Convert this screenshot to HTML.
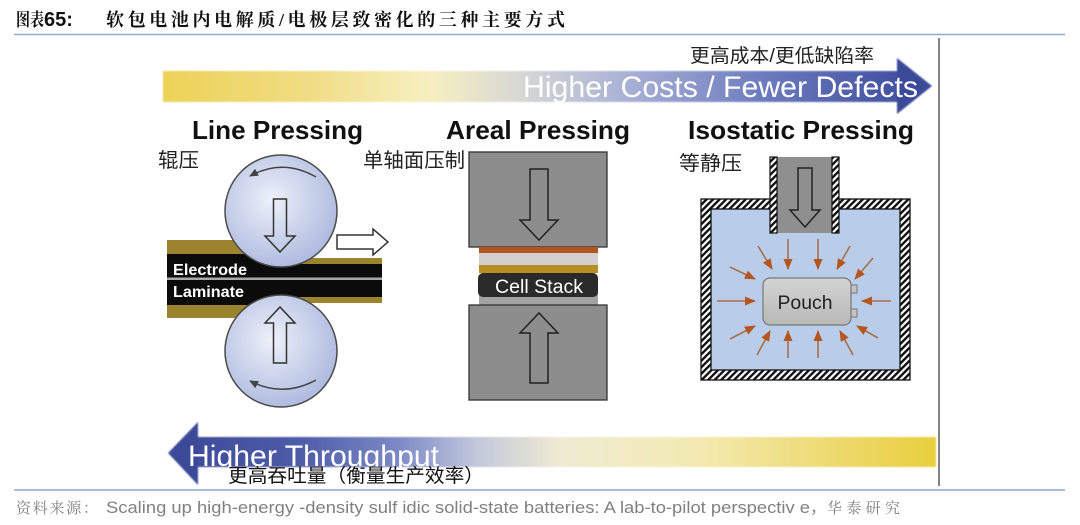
<!DOCTYPE html>
<html><head><meta charset="utf-8"><style>
html,body{margin:0;padding:0;background:#fff;}
svg{display:block;}
</style></head><body>
<svg width="1080" height="525" viewBox="0 0 1080 525" xmlns="http://www.w3.org/2000/svg">
<defs>
 <linearGradient id="gTop" x1="163" y1="0" x2="932" y2="0" gradientUnits="userSpaceOnUse">
  <stop offset="0" stop-color="#edd257"/>
  <stop offset="0.18" stop-color="#f0dc82"/>
  <stop offset="0.35" stop-color="#f6efc2"/>
  <stop offset="0.46" stop-color="#d8d8d4"/>
  <stop offset="0.6" stop-color="#aab2d6"/>
  <stop offset="0.78" stop-color="#6c7bbd"/>
  <stop offset="1" stop-color="#38479a"/>
 </linearGradient>
 <linearGradient id="gBot" x1="168" y1="0" x2="940" y2="0" gradientUnits="userSpaceOnUse">
  <stop offset="0" stop-color="#3a4898"/>
  <stop offset="0.17" stop-color="#4d5ca8"/>
  <stop offset="0.30" stop-color="#7d8ac6"/>
  <stop offset="0.40" stop-color="#c3c8dc"/>
  <stop offset="0.51" stop-color="#efebd2"/>
  <stop offset="0.69" stop-color="#f3e9b0"/>
  <stop offset="1" stop-color="#e8ce3c"/>
 </linearGradient>
 <radialGradient id="gRoll" cx="0.42" cy="0.4" r="0.62">
  <stop offset="0" stop-color="#eef1fa"/>
  <stop offset="1" stop-color="#aebadf"/>
 </radialGradient>
 <linearGradient id="gPouch" x1="0" y1="0" x2="0" y2="1">
  <stop offset="0" stop-color="#d4d4d4"/>
  <stop offset="1" stop-color="#b8b8b8"/>
 </linearGradient>
 <pattern id="hatch" patternUnits="userSpaceOnUse" width="4.6" height="4.6" patternTransform="rotate(45)">
  <rect width="4.6" height="4.6" fill="#fff"/>
  <rect width="2.4" height="4.6" fill="#111"/>
 </pattern>
 <filter id="soft" x="-5%" y="-20%" width="110%" height="140%">
  <feGaussianBlur stdDeviation="0.8"/>
 </filter>
 <marker id="oArr" markerUnits="userSpaceOnUse" markerWidth="11" markerHeight="10" refX="10" refY="4.5" orient="auto">
  <path d="M0,0 L11,4.5 L0,9 Z" fill="#b5561e"/>
 </marker>
 <marker id="dArr" markerUnits="userSpaceOnUse" markerWidth="9" markerHeight="8" refX="8" refY="4" orient="auto">
  <path d="M0,0 L9,4 L0,8 Z" fill="#444"/>
 </marker>
</defs>

<rect width="1080" height="525" fill="#fff"/>

<!-- Title -->
<text x="16" y="26" font-family="'Noto Serif CJK SC', serif" font-weight="bold" font-size="18" textLength="28" lengthAdjust="spacingAndGlyphs" fill="#111">图表</text>
<text x="44" y="26" font-family="'Liberation Sans', sans-serif" font-weight="bold" font-size="20" fill="#111">65:</text>
<text x="106" y="26" font-family="'Liberation Serif','Noto Serif CJK SC', serif" font-weight="bold" font-size="18" textLength="459" lengthAdjust="spacing" fill="#111">软包电池内电解质/电极层致密化的三种主要方式</text>
<line x1="14" y1="34.5" x2="1065" y2="34.5" stroke="#8faacb" stroke-width="1.6"/>

<!-- vertical line -->
<line x1="939" y1="38" x2="939" y2="486" stroke="#333" stroke-width="1.2"/>

<!-- top arrow -->
<g filter="url(#soft)">
 <rect x="163" y="71" width="737" height="31" fill="url(#gTop)"/>
 <polygon points="897,58 932,86 897,114" fill="#3a4899"/>
</g>
<text x="523" y="97" font-family="'Liberation Sans', sans-serif" font-size="30" fill="#fff" textLength="395" lengthAdjust="spacingAndGlyphs">Higher Costs / Fewer Defects</text>
<text x="690" y="62" font-family="'Liberation Sans','Noto Sans CJK SC', sans-serif" font-size="19" fill="#222" textLength="184" lengthAdjust="spacingAndGlyphs">更高成本/更低缺陷率</text>

<!-- section titles -->
<text x="192" y="139" font-family="'Liberation Sans', sans-serif" font-weight="bold" font-size="26" fill="#111" textLength="171" lengthAdjust="spacingAndGlyphs">Line Pressing</text>
<text x="446" y="139" font-family="'Liberation Sans', sans-serif" font-weight="bold" font-size="26" fill="#111" textLength="184" lengthAdjust="spacingAndGlyphs">Areal Pressing</text>
<text x="688" y="139" font-family="'Liberation Sans', sans-serif" font-weight="bold" font-size="26" fill="#111" textLength="226" lengthAdjust="spacingAndGlyphs">Isostatic Pressing</text>

<text x="158" y="167" font-family="'Liberation Sans','Noto Sans CJK SC', sans-serif" font-size="20" fill="#222" textLength="41" lengthAdjust="spacingAndGlyphs">辊压</text>
<text x="363" y="167" font-family="'Liberation Sans','Noto Sans CJK SC', sans-serif" font-size="20" fill="#222" textLength="102" lengthAdjust="spacingAndGlyphs">单轴面压制</text>
<text x="679" y="170" font-family="'Liberation Sans','Noto Sans CJK SC', sans-serif" font-size="20" fill="#222" textLength="63" lengthAdjust="spacingAndGlyphs">等静压</text>

<!-- ===== Line pressing ===== -->
<rect x="167" y="240" width="118" height="78" fill="#9c8330"/>
<rect x="167" y="254" width="118" height="51" fill="#0b0b0b"/>
<rect x="285" y="258" width="97" height="45" fill="#9c8330"/>
<rect x="285" y="264" width="97" height="33" fill="#0b0b0b"/>
<rect x="167" y="277.5" width="215" height="2.5" fill="#a8a8a8"/>
<text x="173" y="275" font-family="'Liberation Sans', sans-serif" font-weight="bold" font-size="16" fill="#fff" textLength="74" lengthAdjust="spacingAndGlyphs">Electrode</text>
<text x="173" y="297" font-family="'Liberation Sans', sans-serif" font-weight="bold" font-size="16" fill="#fff" textLength="71" lengthAdjust="spacingAndGlyphs">Laminate</text>

<circle cx="281" cy="211" r="56" fill="url(#gRoll)" stroke="#4a4a4a" stroke-width="1.5"/>
<circle cx="281" cy="351" r="56" fill="url(#gRoll)" stroke="#4a4a4a" stroke-width="1.5"/>
<path d="M316,177 Q283,158 250,176" fill="none" stroke="#444" stroke-width="1.5" marker-end="url(#dArr)"/>
<path d="M316,380 Q283,398 250,381" fill="none" stroke="#444" stroke-width="1.5" marker-end="url(#dArr)"/>
<path d="M273.5,199 L286.5,199 L286.5,236 L295,236 L280,252 L265,236 L273.5,236 Z" fill="none" stroke="#333" stroke-width="1.5"/>
<path d="M273.5,363 L286.5,363 L286.5,323 L295,323 L280,307 L265,323 L273.5,323 Z" fill="none" stroke="#333" stroke-width="1.5"/>
<path d="M337,235 L373,235 L373,229 L388,242 L373,255 L373,249 L337,249 Z" fill="#fff" stroke="#333" stroke-width="1.5"/>

<!-- ===== Areal pressing ===== -->
<rect x="469" y="152" width="138" height="95" fill="#8d8d8d" stroke="#333" stroke-width="1.3"/>
<path d="M530,169 L548,169 L548,220 L558,220 L539,240 L520,220 L530,220 Z" fill="none" stroke="#222" stroke-width="1.5"/>
<rect x="479" y="247" width="119" height="6" fill="#b5541f"/>
<rect x="479" y="253" width="119" height="12" fill="#d3cfcf"/>
<rect x="479" y="265" width="119" height="8" fill="#b58f22"/>
<rect x="479" y="290" width="119" height="15" fill="#a3a3a3"/>
<rect x="478" y="273" width="120" height="24" rx="5" fill="#2a2a2a"/>
<text x="539" y="293" text-anchor="middle" font-family="'Liberation Sans', sans-serif" font-size="19" fill="#fff" textLength="88" lengthAdjust="spacingAndGlyphs">Cell Stack</text>
<rect x="469" y="305" width="138" height="95" fill="#8d8d8d" stroke="#333" stroke-width="1.3"/>
<path d="M530,383 L548,383 L548,333 L558,333 L539,313 L520,333 L530,333 Z" fill="none" stroke="#222" stroke-width="1.5"/>

<!-- ===== Isostatic pressing ===== -->
<rect x="701" y="199" width="209" height="181" fill="url(#hatch)" stroke="#111" stroke-width="1.3"/>
<rect x="711" y="209" width="189" height="161" fill="#b9cdea" stroke="#111" stroke-width="1.3"/>
<rect x="777" y="157" width="55" height="76" fill="#8f8f8f"/>
<rect x="770" y="157" width="7" height="76" fill="url(#hatch)" stroke="#111" stroke-width="1.2"/>
<rect x="832" y="157" width="7" height="76" fill="url(#hatch)" stroke="#111" stroke-width="1.2"/>
<path d="M798,168 L812,168 L812,210 L820,210 L805,227 L790,210 L798,210 Z" fill="none" stroke="#222" stroke-width="1.5"/>

<rect x="850" y="285" width="7" height="8" fill="#c4c4c4" stroke="#777" stroke-width="1"/>
<rect x="850" y="309" width="7" height="8" fill="#c4c4c4" stroke="#777" stroke-width="1"/>
<rect x="763" y="278" width="88" height="47" rx="7" fill="url(#gPouch)" stroke="#777" stroke-width="1.2"/>
<text x="805" y="309" text-anchor="middle" font-family="'Liberation Sans', sans-serif" font-size="19" fill="#222" textLength="55" lengthAdjust="spacingAndGlyphs">Pouch</text>

<g stroke="#a8704c" stroke-width="1.6" marker-end="url(#oArr)">
 <line x1="758" y1="246" x2="772" y2="269"/>
 <line x1="788" y1="239" x2="788" y2="269"/>
 <line x1="818" y1="239" x2="818" y2="269"/>
 <line x1="850" y1="246" x2="837" y2="269"/>
 <line x1="730" y1="267" x2="755" y2="279"/>
 <line x1="873" y1="258" x2="855" y2="279"/>
 <line x1="717" y1="301" x2="755" y2="301"/>
 <line x1="891" y1="301" x2="862" y2="301"/>
 <line x1="730" y1="339" x2="755" y2="326"/>
 <line x1="878" y1="338" x2="857" y2="326"/>
 <line x1="757" y1="355" x2="770" y2="331"/>
 <line x1="788" y1="358" x2="788" y2="331"/>
 <line x1="818" y1="358" x2="818" y2="331"/>
 <line x1="853" y1="355" x2="840" y2="331"/>
</g>

<!-- bottom arrow -->
<g filter="url(#soft)">
 <rect x="196" y="437" width="740" height="30" fill="url(#gBot)"/>
 <polygon points="198,422 168,453 198,485" fill="#3a4898"/>
</g>
<text x="188" y="466" font-family="'Liberation Sans', sans-serif" font-size="30" fill="#fff" textLength="251" lengthAdjust="spacingAndGlyphs">Higher Throughput</text>
<text x="228" y="482" font-family="'Liberation Sans','Noto Sans CJK SC', sans-serif" font-size="19" fill="#111" textLength="256" lengthAdjust="spacingAndGlyphs">更高吞吐量（衡量生产效率）</text>

<!-- footer -->
<line x1="14" y1="490" x2="1065" y2="490" stroke="#8faacb" stroke-width="1.6"/>
<text x="16" y="513" font-family="'Liberation Serif','Noto Serif CJK SC', serif" font-size="15" fill="#808080" textLength="82" lengthAdjust="spacing">资料来源：</text>
<text x="106" y="513" font-family="'Liberation Sans', sans-serif" font-size="16.5" fill="#808080" textLength="704" lengthAdjust="spacingAndGlyphs">Scaling up high-energy -density  sulf idic solid-state batteries: A lab-to-pilot perspectiv e</text>
<text x="810" y="513" font-family="'Liberation Sans','Noto Sans CJK SC', sans-serif" font-size="16" fill="#808080">，</text>
<text x="827" y="513" font-family="'Liberation Serif','Noto Serif CJK SC', serif" font-size="15" fill="#808080" textLength="73" lengthAdjust="spacing">华泰研究</text>
</svg>
</body></html>
